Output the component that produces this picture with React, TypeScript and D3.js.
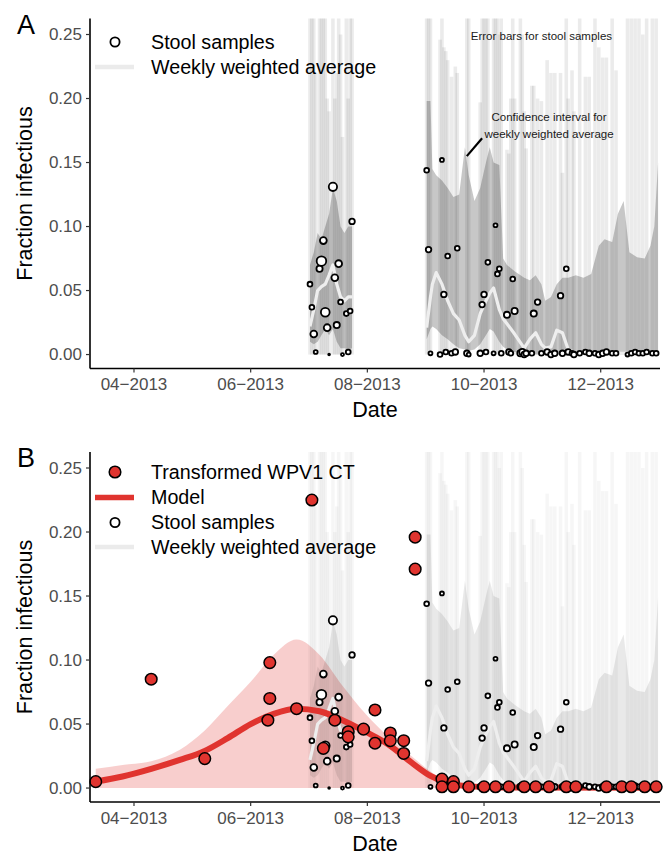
import React from "react";
import * as d3 from "d3";

const parseDate = d3.utcParse("%Y-%m-%d");

// ---------- axes ----------
const xDomain = ["2013-03-09", "2014-01-01"];
const xTickDates = ["2013-04-01", "2013-06-01", "2013-08-01", "2013-10-01", "2013-12-01"];
const yTickValues = [0, 0.05, 0.1, 0.15, 0.2, 0.25];
const yDomain = [-0.0109, 0.2625];

// ---------- stool samples ----------
const stoolDates = [
  "2013-07-02", "2013-07-03", "2013-07-04", "2013-07-05", "2013-07-07", "2013-07-08", "2013-07-09", "2013-07-10",
  "2013-07-11", "2013-07-12", "2013-07-14", "2013-07-15", "2013-07-16", "2013-07-17", "2013-07-18", "2013-07-19",
  "2013-07-21", "2013-07-22", "2013-07-23", "2013-07-24",
  "2013-09-01", "2013-09-02", "2013-09-03", "2013-09-08", "2013-09-09", "2013-09-10", "2013-09-11", "2013-09-12",
  "2013-09-14", "2013-09-16", "2013-09-17", "2013-09-22", "2013-09-23", "2013-09-29", "2013-09-30", "2013-10-01",
  "2013-10-02", "2013-10-03", "2013-10-06", "2013-10-07", "2013-10-08", "2013-10-09", "2013-10-10", "2013-10-13",
  "2013-10-14", "2013-10-15", "2013-10-16", "2013-10-17", "2013-10-20", "2013-10-21", "2013-10-22", "2013-10-23",
  "2013-10-26", "2013-10-27", "2013-10-29", "2013-10-31", "2013-11-03", "2013-11-05", "2013-11-07", "2013-11-10",
  "2013-11-11", "2013-11-13", "2013-11-14", "2013-11-16", "2013-11-17", "2013-11-20", "2013-11-23", "2013-11-25",
  "2013-11-28", "2013-11-30", "2013-12-02", "2013-12-04", "2013-12-07", "2013-12-09", "2013-12-15", "2013-12-17",
  "2013-12-19", "2013-12-21", "2013-12-23", "2013-12-25", "2013-12-28", "2013-12-30",
];
const stoolValues = [
  0.055, 0.037, 0.016, 0.002, 0.067, 0.073, 0.089, 0.033,
  0.021, 0.0, 0.131, 0.06, 0.023, 0.071, 0.041, 0.0,
  0.032, 0.002, 0.034, 0.104,
  0.144, 0.082, 0.001, 0.0, 0.152, 0.047, 0.002, 0.077,
  0.001, 0.002, 0.083, 0.001, 0.0, 0.001, 0.039, 0.047,
  0.002, 0.072, 0.001, 0.101, 0.063, 0.067, 0.001, 0.031,
  0.002, 0.001, 0.059, 0.034, 0.001, 0.002, 0.0, 0.001,
  0.001, 0.032, 0.041, 0.001, 0.002, 0.0, 0.001, 0.046,
  0.001, 0.067, 0.002, 0.001, 0.0, 0.001, 0.002, 0.001,
  0.001, 0.0, 0.001, 0.002, 0.001, 0.001, 0.0, 0.001,
  0.002, 0.001, 0.001, 0.002, 0.001, 0.001,
];
const stoolN = [
  3, 3, 6, 2, 5, 12, 6, 10,
  6, 0.4, 9, 6, 5, 6, 3, 1.2,
  3, 3, 3, 4,
  3, 4, 2, 3, 2, 4, 3, 3,
  3, 4, 3, 4, 2, 4, 4, 4,
  3, 3, 2, 2, 3, 3, 3, 5,
  4, 3, 3, 5, 5, 5, 4, 4,
  3, 5, 4, 3, 4, 4, 4, 4,
  4, 3, 4, 3, 4, 3, 3, 4,
  3, 4, 4, 4, 3, 3, 2, 3,
  3, 3, 3, 3, 3, 3,
];
const stoolUpper = [
  0.3, 0.3, 0.3, 0.22, 0.3, 0.3, 0.3, 0.3,
  0.2, 0.19, 0.3, 0.2, 0.22, 0.3, 0.25, 0.17,
  0.3, 0.2, 0.3, 0.3,
  0.3, 0.3, 0.3, 0.246, 0.3, 0.24, 0.237, 0.23,
  0.217, 0.225, 0.22, 0.3, 0.3, 0.197, 0.3, 0.3,
  0.3, 0.3, 0.3, 0.3, 0.3, 0.25, 0.3, 0.16,
  0.157, 0.2, 0.3, 0.2, 0.3, 0.25, 0.19, 0.161,
  0.21, 0.21, 0.2, 0.198, 0.23, 0.22, 0.22, 0.22,
  0.142, 0.3, 0.2, 0.222, 0.19, 0.3, 0.217, 0.217,
  0.3, 0.24, 0.232, 0.232, 0.3, 0.222, 0.3, 0.3,
  0.3, 0.3, 0.25, 0.3, 0.3, 0.3,
];

// ---------- weekly weighted average ----------
const wwaDates = [
  "2013-07-02", "2013-07-04", "2013-07-06", "2013-07-08", "2013-07-10", "2013-07-12", "2013-07-14", "2013-07-16",
  "2013-07-18", "2013-07-20", "2013-07-22", "2013-07-24",
  "2013-08-15",
  "2013-09-01", "2013-09-03", "2013-09-04", "2013-09-06", "2013-09-09", "2013-09-12", "2013-09-15", "2013-09-18",
  "2013-09-21", "2013-09-23", "2013-09-26", "2013-09-29",
  "2013-10-02", "2013-10-04", "2013-10-06", "2013-10-09", "2013-10-11", "2013-10-13", "2013-10-17", "2013-10-22",
  "2013-10-25", "2013-10-28", "2013-10-31",
  "2013-11-02", "2013-11-05", "2013-11-08", "2013-11-11", "2013-11-14", "2013-11-18", "2013-11-22", "2013-11-26",
  "2013-11-30",
  "2013-12-03", "2013-12-07", "2013-12-10", "2013-12-13", "2013-12-16", "2013-12-20", "2013-12-24", "2013-12-27",
  "2013-12-29", "2013-12-31",
];
const wwaMean = [
  0.022, 0.035, 0.05, 0.053, 0.055, 0.062, 0.07, 0.055, 0.045, 0.042, 0.045, 0.045,
  null,
  0.021, 0.045, 0.055, 0.064, 0.055, 0.042, 0.032, 0.027, 0.015, 0.01, 0.015, 0.032,
  0.042, 0.048, 0.052, 0.035, 0.028, 0.024, 0.016, 0.005, 0.012, 0.017, 0.008,
  0.005, 0.006, 0.019, 0.017, 0.004, 0.001, 0.001, 0.001, 0.001,
  0.001, 0.001, 0.001, 0.001, 0.001, 0.001, 0.001, 0.001, 0.001, 0.001,
];
const wwaLower = [
  0.01, 0.008, 0.01, 0.015, 0.02, 0.015, 0.02, 0.01, 0.005, 0.005, 0.004, 0.005,
  null,
  0.012, 0.02, 0.022, 0.02, 0.015, 0.012, 0.008, 0.005, 0.004, 0.003, 0.004, 0.008,
  0.015, 0.02, 0.018, 0.01, 0.006, 0.004, 0.002, 0, 0, 0, 0,
  0, 0, 0, 0, 0, 0, 0, 0, 0,
  0, 0, 0, 0, 0, 0, 0, 0, 0, 0,
];
const wwaUpper = [
  0.07, 0.08, 0.095, 0.09, 0.1, 0.11, 0.13, 0.12, 0.1, 0.095, 0.1, 0.1,
  null,
  0.198, 0.198, 0.145, 0.14, 0.136, 0.13, 0.123, 0.125, 0.162, 0.14, 0.12, 0.13,
  0.15, 0.162, 0.15, 0.148, 0.075, 0.07, 0.065, 0.06, 0.058, 0.062, 0.055,
  0.042, 0.045, 0.055, 0.06, 0.06, 0.062, 0.06, 0.063, 0.085,
  0.09, 0.088, 0.11, 0.12, 0.08, 0.076, 0.075, 0.085, 0.1, 0.15,
];

// ---------- model ----------
const modelDates = [
  "2013-03-12", "2013-03-26", "2013-04-10", "2013-04-25", "2013-05-08", "2013-05-20", "2013-06-01", "2013-06-13",
  "2013-06-25", "2013-07-07", "2013-07-19", "2013-07-31", "2013-08-12", "2013-08-24", "2013-09-03", "2013-09-12",
  "2013-09-22", "2013-10-10", "2013-12-31",
];
const modelMean = [
  0.005, 0.009, 0.015, 0.022, 0.029, 0.039, 0.05, 0.058,
  0.062, 0.06, 0.053, 0.044, 0.034, 0.02, 0.0095, 0.004,
  0.0015, 0.0005, 0.0002,
];
const modelUpper = [
  0.015, 0.018, 0.021, 0.03, 0.045, 0.064, 0.083, 0.104,
  0.116, 0.104, 0.08, 0.058, 0.04, 0.025, 0.013, 0.005,
  0.002, 0.001, 0.001,
];

// ---------- transformed WPV1 CT ----------
const ctDates = [
  "2013-03-12", "2013-04-10", "2013-05-08", "2013-06-10", "2013-06-11", "2013-06-11", "2013-06-25", "2013-07-03",
  "2013-07-09", "2013-07-15", "2013-07-22", "2013-07-22", "2013-07-30", "2013-08-05", "2013-08-05", "2013-08-13",
  "2013-08-13", "2013-08-20", "2013-08-20", "2013-08-26", "2013-08-26", "2013-09-09", "2013-09-09", "2013-09-15",
  "2013-09-15", "2013-09-23", "2013-10-01", "2013-10-07", "2013-10-14", "2013-10-22", "2013-10-28", "2013-11-04",
  "2013-11-13", "2013-11-18", "2013-12-04", "2013-12-12", "2013-12-17", "2013-12-24", "2013-12-30",
];
const ctValues = [
  0.005, 0.085, 0.023, 0.053, 0.07, 0.098, 0.062, 0.225,
  0.031, 0.053, 0.044, 0.04, 0.046, 0.061, 0.035, 0.043,
  0.037, 0.037, 0.027, 0.196, 0.171, 0.007, 0.001, 0.005,
  0.001, 0.001, 0.001, 0.001, 0.001, 0.001, 0.001, 0.001,
  0.001, 0.001, 0.001, 0.001, 0.001, 0.001, 0.001,
];

// ---------- annotations (panel A) ----------
const annoTexts = ["Error bars for stool samples", "Confidence interval for", "weekly weighted average"];
const annoDates = ["2013-10-31", "2013-11-04", "2013-11-04"];
const annoValues = [0.249, 0.1856, 0.172];
const annoLineDates = ["2013-09-30", "2013-09-22"];
const annoLineValues = [0.169, 0.155];

// ---------- helpers ----------
const FONT = "'Liberation Sans', Arial, Helvetica, sans-serif";
const RED = "#E0342F";
const fmtX = d3.utcFormat("%m\u2212%Y");
const fmtY = d3.format(".2f");

const stool = stoolDates.map((d, i) => ({
  date: parseDate(d) as Date,
  value: stoolValues[i],
  n: stoolN[i],
  upper: stoolUpper[i],
}));
const wwa = wwaDates.map((d, i) => ({
  date: parseDate(d) as Date,
  mean: wwaMean[i],
  lower: wwaLower[i],
  upper: wwaUpper[i],
}));
const model = modelDates.map((d, i) => ({
  date: parseDate(d) as Date,
  mean: modelMean[i],
  upper: modelUpper[i],
}));
const ct = ctDates.map((d, i) => ({ date: parseDate(d) as Date, value: ctValues[i] }));

function Panel({ offset, letter, withModel }: { offset: number; letter: string; withModel: boolean }) {
  const x = d3.scaleUtc().domain(xDomain.map((s) => parseDate(s) as Date)).range([90, 660]);
  const y = d3.scaleLinear().domain(yDomain).range([368.5 + offset, 18.5 + offset]);
  const r = d3.scaleSqrt().domain([0, 12]).range([0, 4.8]);
  const [left, right] = x.range();
  const [bottom, top] = y.range();
  const y0 = y(0);
  const clipId = `clip-${letter}`;
  const barOpacity = withModel ? 0.035 : 0.08;
  const ribbonOpacity = withModel ? 0.085 : 0.22;

  const ciArea = d3
    .area<any>()
    .defined((d) => d.mean != null)
    .x((d) => x(d.date))
    .y0((d) => y(d.lower))
    .y1((d) => y(d.upper));
  const avgLine = d3
    .line<any>()
    .defined((d) => d.mean != null)
    .x((d) => x(d.date))
    .y((d) => y(d.mean));
  const modelArea = d3
    .area<any>()
    .curve(d3.curveMonotoneX)
    .x((d) => x(d.date))
    .y0(() => y(0))
    .y1((d) => y(d.upper));
  const modelLine = d3
    .line<any>()
    .curve(d3.curveMonotoneX)
    .x((d) => x(d.date))
    .y((d) => y(d.mean));

  const legendRows = withModel
    ? [
        { kind: "ct", label: "Transformed WPV1 CT", cy: 472 },
        { kind: "model", label: "Model", cy: 497.5 },
        { kind: "stool", label: "Stool samples", cy: 522.5 },
        { kind: "wwa", label: "Weekly weighted average", cy: 547 },
      ]
    : [
        { kind: "stool", label: "Stool samples", cy: 42 },
        { kind: "wwa", label: "Weekly weighted average", cy: 67 },
      ];

  return (
    <g>
      <defs>
        <clipPath id={clipId}>
          <rect x={left} y={top} width={right - left} height={bottom - top} />
        </clipPath>
      </defs>
      <g clipPath={`url(#${clipId})`}>
        {withModel && <path d={modelArea(model) || ""} fill={RED} fillOpacity={0.24} />}
        {stool.map((s, i) => (
          <rect
            key={i}
            x={x(s.date) - 1.8}
            y={y(s.upper)}
            width={3.6}
            height={y0 - y(s.upper)}
            fill="#000"
            fillOpacity={barOpacity}
          />
        ))}
        <path d={ciArea(wwa) || ""} fill="#000" fillOpacity={ribbonOpacity} />
        <path d={avgLine(wwa) || ""} fill="none" stroke="#EEEEEE" strokeWidth={3.2} strokeLinejoin="round" />
        {withModel && <path d={modelLine(model) || ""} fill="none" stroke={RED} strokeWidth={6} />}
      </g>
      {stool.map((s, i) => (
        <circle
          key={i}
          cx={x(s.date)}
          cy={y(s.value)}
          r={r(s.n)}
          fill="#fff"
          stroke="#000"
          strokeWidth={1.8}
        />
      ))}
      {withModel &&
        ct.map((c, i) => (
          <circle key={i} cx={x(c.date)} cy={y(c.value)} r={5.8} fill={RED} stroke="#000" strokeWidth={1.5} />
        ))}

      {!withModel && (
        <g fontFamily={FONT} fill="#1a1a1a" fontSize={11.5} textAnchor="middle">
          {annoTexts.map((t, i) => (
            <text key={i} x={x(parseDate(annoDates[i]) as Date)} y={y(annoValues[i])} dy="0.35em">
              {t}
            </text>
          ))}
          <line
            x1={x(parseDate(annoLineDates[0]) as Date)}
            y1={y(annoLineValues[0])}
            x2={x(parseDate(annoLineDates[1]) as Date)}
            y2={y(annoLineValues[1])}
            stroke="#000"
            strokeWidth={2.2}
          />
        </g>
      )}

      {/* axes */}
      <line x1={left} x2={left} y1={top} y2={bottom} stroke="#000" strokeWidth={1.6} />
      <line x1={left} x2={right} y1={bottom} y2={bottom} stroke="#000" strokeWidth={1.6} />
      <g fontFamily={FONT} fontSize={17} fill="#4d4d4d">
        {yTickValues.map((v) => (
          <g key={v}>
            <line x1={left - 4} x2={left} y1={y(v)} y2={y(v)} stroke="#333" strokeWidth={1.2} />
            <text x={left - 8} y={y(v)} dy="0.35em" textAnchor="end">
              {fmtY(v)}
            </text>
          </g>
        ))}
        {xTickDates.map((d) => {
          const dt = parseDate(d) as Date;
          return (
            <g key={d}>
              <line x1={x(dt)} x2={x(dt)} y1={bottom} y2={bottom + 4} stroke="#333" strokeWidth={1.2} />
              <text x={x(dt)} y={bottom + 21.5} textAnchor="middle">
                {fmtX(dt)}
              </text>
            </g>
          );
        })}
      </g>
      <text x={(left + right) / 2} y={bottom + 48.5} fontFamily={FONT} fontSize={21.5} textAnchor="middle" fill="#000">
        Date
      </text>
      <text
        transform={`translate(32, ${(top + bottom) / 2}) rotate(-90)`}
        fontFamily={FONT}
        fontSize={21.5}
        textAnchor="middle"
        fill="#000"
      >
        Fraction infectious
      </text>
      <text x={17} y={top + 15} fontFamily={FONT} fontSize={27} fill="#000">
        {letter}
      </text>

      {/* legend */}
      <g fontFamily={FONT} fontSize={19.7} fill="#000">
        {legendRows.map((row) => (
          <g key={row.kind}>
            {row.kind === "ct" && <circle cx={115} cy={row.cy} r={5.8} fill={RED} stroke="#000" strokeWidth={1.5} />}
            {row.kind === "model" && <line x1={95} x2={134} y1={row.cy} y2={row.cy} stroke={RED} strokeWidth={5.5} />}
            {row.kind === "stool" && <circle cx={115} cy={row.cy} r={4.6} fill="#fff" stroke="#000" strokeWidth={1.8} />}
            {row.kind === "wwa" && <line x1={95} x2={134} y1={row.cy} y2={row.cy} stroke="#EBEBEB" strokeWidth={4.5} />}
            <text x={151} y={row.cy} dy="0.35em">
              {row.label}
            </text>
          </g>
        ))}
      </g>
    </g>
  );
}

export default function App() {
  return (
    <div style={{ position: "absolute", left: 0, top: 0 }}>
      <svg width={669} height={857} style={{ display: "block", background: "#fff" }}>
        <rect width={669} height={857} fill="#fff" />
        <Panel offset={0} letter="A" withModel={false} />
        <Panel offset={433.5} letter="B" withModel={true} />
      </svg>
    </div>
  );
}
